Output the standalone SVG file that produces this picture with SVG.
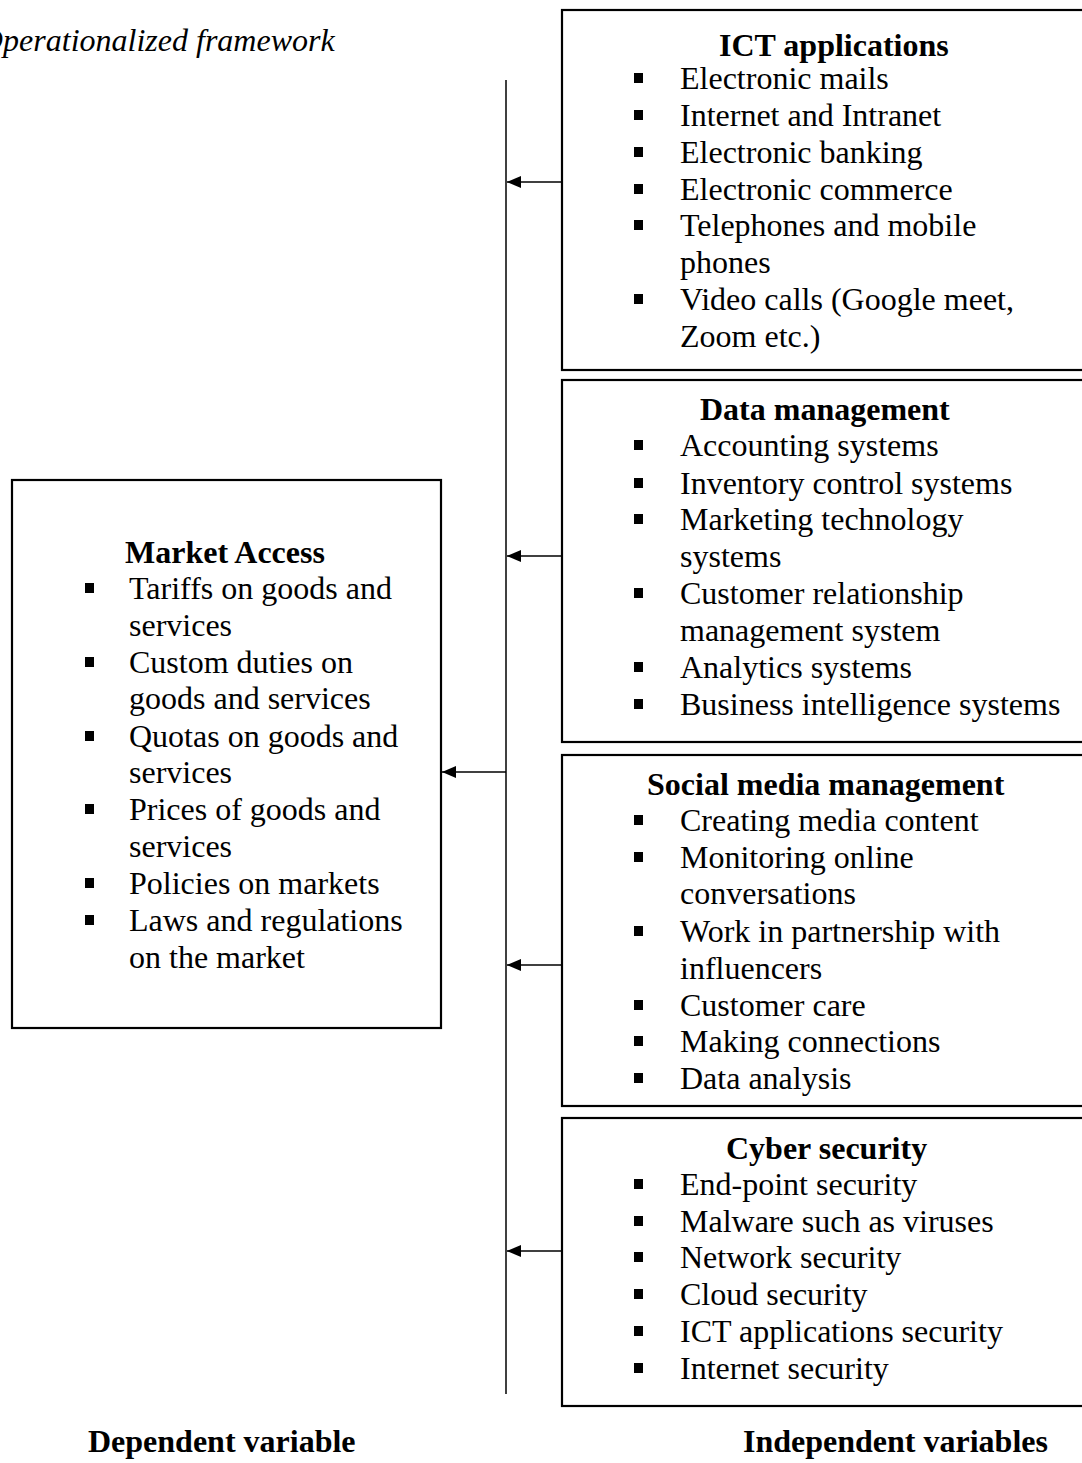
<svg xmlns="http://www.w3.org/2000/svg" width="1082" height="1463" viewBox="0 0 1082 1463">
<style>
text{font-family:"Liberation Serif","Times New Roman",serif;font-size:32px;fill:#000}
.h{font-weight:bold}
.it{font-style:italic}
.box{fill:#fff;stroke:#000;stroke-width:2.2}
.b{fill:#000}
.con{stroke:#000;stroke-width:1.5;fill:none}
</style>
<defs>
<marker id="ah" markerWidth="16" markerHeight="14" refX="14" refY="6" orient="auto" markerUnits="userSpaceOnUse">
<path d="M0,0 L14,6 L0,12 Z" fill="#000"/>
</marker>
</defs>
<rect width="1082" height="1463" fill="#fff"/>
<text class="it" x="-20" y="51">Operationalized framework</text>

<g id="connectors">
<line class="con" x1="506" y1="80" x2="506" y2="1394"/>
<line class="con" x1="562" y1="182" x2="507" y2="182" marker-end="url(#ah)"/>
<line class="con" x1="562" y1="556" x2="507" y2="556" marker-end="url(#ah)"/>
<line class="con" x1="506" y1="772" x2="442" y2="772" marker-end="url(#ah)"/>
<line class="con" x1="562" y1="965" x2="507" y2="965" marker-end="url(#ah)"/>
<line class="con" x1="562" y1="1251" x2="507" y2="1251" marker-end="url(#ah)"/>
</g>

<g id="ict">
<rect class="box" x="562" y="10" width="530" height="360"/>
<text class="h" x="719" y="56">ICT applications</text>
<rect class="b" x="634" y="73" width="9" height="10"/><text x="680" y="89">Electronic mails</text>
<rect class="b" x="634" y="110" width="9" height="10"/><text x="680" y="126">Internet and Intranet</text>
<rect class="b" x="634" y="147" width="9" height="10"/><text x="680" y="163">Electronic banking</text>
<rect class="b" x="634" y="184" width="9" height="10"/><text x="680" y="200">Electronic commerce</text>
<rect class="b" x="634" y="220" width="9" height="10"/><text x="680" y="236">Telephones and mobile</text>
<text x="680" y="273">phones</text>
<rect class="b" x="634" y="294" width="9" height="10"/><text x="680" y="310">Video calls (Google meet,</text>
<text x="680" y="347">Zoom etc.)</text>
</g>

<g id="data">
<rect class="box" x="562" y="380" width="530" height="362"/>
<text class="h" x="700" y="420">Data management</text>
<rect class="b" x="634" y="440" width="9" height="10"/><text x="680" y="456">Accounting systems</text>
<rect class="b" x="634" y="478" width="9" height="10"/><text x="680" y="494">Inventory control systems</text>
<rect class="b" x="634" y="514" width="9" height="10"/><text x="680" y="530">Marketing technology</text>
<text x="680" y="567">systems</text>
<rect class="b" x="634" y="588" width="9" height="10"/><text x="680" y="604">Customer relationship</text>
<text x="680" y="641">management system</text>
<rect class="b" x="634" y="662" width="9" height="10"/><text x="680" y="678">Analytics systems</text>
<rect class="b" x="634" y="699" width="9" height="10"/><text x="680" y="715">Business intelligence systems</text>
</g>

<g id="social">
<rect class="box" x="562" y="755" width="530" height="351"/>
<text class="h" x="647" y="795">Social media management</text>
<rect class="b" x="634" y="815" width="9" height="10"/><text x="680" y="831">Creating media content</text>
<rect class="b" x="634" y="852" width="9" height="10"/><text x="680" y="868">Monitoring online</text>
<text x="680" y="904">conversations</text>
<rect class="b" x="634" y="926" width="9" height="10"/><text x="680" y="942">Work in partnership with</text>
<text x="680" y="979">influencers</text>
<rect class="b" x="634" y="1000" width="9" height="10"/><text x="680" y="1016">Customer care</text>
<rect class="b" x="634" y="1036" width="9" height="10"/><text x="680" y="1052">Making connections</text>
<rect class="b" x="634" y="1073" width="9" height="10"/><text x="680" y="1089">Data analysis</text>
</g>

<g id="cyber">
<rect class="box" x="562" y="1118" width="530" height="288"/>
<text class="h" x="726" y="1159">Cyber security</text>
<rect class="b" x="634" y="1179" width="9" height="10"/><text x="680" y="1195">End-point security</text>
<rect class="b" x="634" y="1216" width="9" height="10"/><text x="680" y="1232">Malware such as viruses</text>
<rect class="b" x="634" y="1252" width="9" height="10"/><text x="680" y="1268">Network security</text>
<rect class="b" x="634" y="1289" width="9" height="10"/><text x="680" y="1305">Cloud security</text>
<rect class="b" x="634" y="1326" width="9" height="10"/><text x="680" y="1342">ICT applications security</text>
<rect class="b" x="634" y="1363" width="9" height="10"/><text x="680" y="1379">Internet security</text>
</g>

<g id="market">
<rect class="box" x="12" y="480" width="429" height="548"/>
<text class="h" x="125" y="563">Market Access</text>
<rect class="b" x="85" y="583" width="9" height="10"/><text x="129" y="599">Tariffs on goods and</text>
<text x="129" y="636">services</text>
<rect class="b" x="85" y="657" width="9" height="10"/><text x="129" y="673">Custom duties on</text>
<text x="129" y="709">goods and services</text>
<rect class="b" x="85" y="731" width="9" height="10"/><text x="129" y="747">Quotas on goods and</text>
<text x="129" y="783">services</text>
<rect class="b" x="85" y="804" width="9" height="10"/><text x="129" y="820">Prices of goods and</text>
<text x="129" y="857">services</text>
<rect class="b" x="85" y="878" width="9" height="10"/><text x="129" y="894">Policies on markets</text>
<rect class="b" x="85" y="915" width="9" height="10"/><text x="129" y="931">Laws and regulations</text>
<text x="129" y="968">on the market</text>
</g>

<text class="h" x="88" y="1452">Dependent variable</text>
<text class="h" x="743" y="1452">Independent variables</text>
</svg>
